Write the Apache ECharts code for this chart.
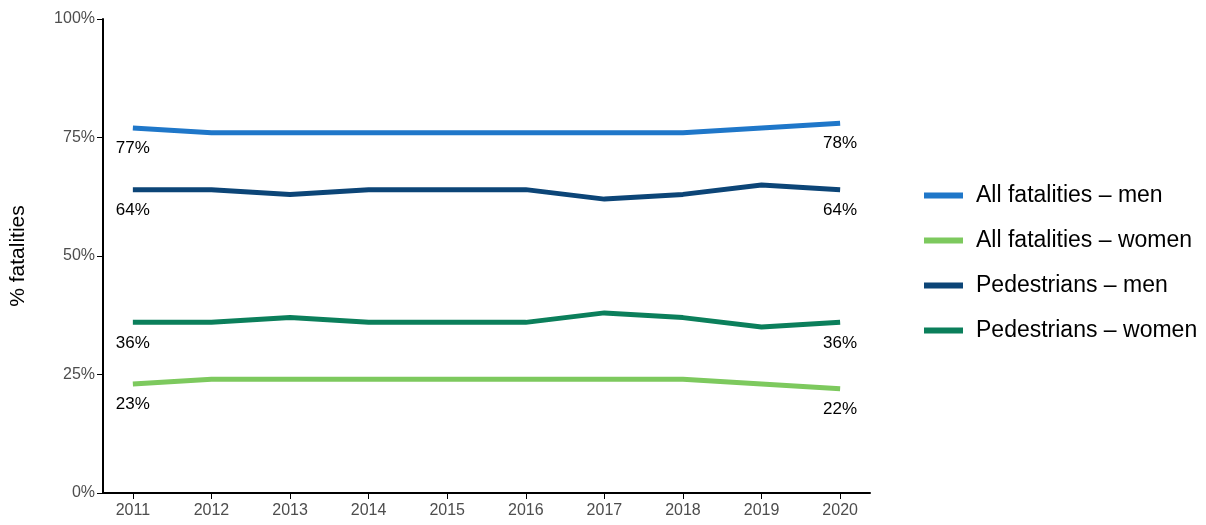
<!DOCTYPE html>
<html>
<head>
<meta charset="UTF-8">
<script src="https://cdn.jsdelivr.net/npm/echarts@6/dist/echarts.min.js"></script>
<style>body{margin:0}#main{width:1206px;height:525px}</style>
</head>
<body>
<div id="main"></div>
<script>
var years = [2011, 2012, 2013, 2014, 2015, 2016, 2017, 2018, 2019, 2020];
var allMen = [77, 76, 76, 76, 76, 76, 76, 76, 77, 78];
var allWomen = [23, 24, 24, 24, 24, 24, 24, 24, 23, 22];
var pedMen = [64, 64, 63, 64, 64, 64, 62, 63, 65, 64];
var pedWomen = [36, 36, 37, 36, 36, 36, 38, 37, 35, 36];
var yTicks = [0, 25, 50, 75, 100];

function mk(name, vals, color) {
  return {
    name: name, type: 'line', symbol: 'none',
    lineStyle: { width: 5, color: color }, itemStyle: { color: color },
    data: vals.map(function (v, i) { return [years[i], v]; }),
    markPoint: {
      symbol: 'circle', symbolSize: 0,
      label: { show: true, position: 'bottom', distance: 12, color: '#000', fontSize: 17, fontFamily: 'Liberation Sans',
        formatter: function (p) { return p.value + '%'; } },
      data: [0, vals.length - 1].map(function (i) { return { coord: [years[i], vals[i]], value: vals[i] }; })
    }
  };
}

var chart = echarts.init(document.getElementById('main'));
chart.setOption({
  animation: false,
  textStyle: { fontFamily: 'Liberation Sans' },
  grid: { left: 99, right: 336, top: 19, bottom: 32 },
  legend: {
    orient: 'vertical', left: 919, top: 179, itemGap: 22, itemWidth: 39, itemHeight: 6,
    icon: 'rect', textStyle: { fontSize: 23, color: '#000', padding: [0, 0, 0, 8] },
    data: ['All fatalities – men', 'All fatalities – women', 'Pedestrians – men', 'Pedestrians – women']
  },
  xAxis: {
    type: 'value', min: 2010.62, max: 2020.38,
    axisLine: { lineStyle: { color: '#000', width: 2 } },
    splitLine: { show: false },
    axisTick: { customValues: years, length: 6, lineStyle: { color: '#000' } },
    axisLabel: { customValues: years, color: '#4d4d4d', fontSize: 16, margin: 10,
      formatter: function (v) { return String(v); } }
  },
  yAxis: {
    type: 'value', min: 0, max: 100, interval: 25,
    name: '% fatalities', nameLocation: 'middle', nameGap: 74, nameRotate: 90,
    nameTextStyle: { fontSize: 21, color: '#000' },
    axisLine: { show: true, lineStyle: { color: '#000', width: 2 } },
    axisTick: { show: true, length: 6, lineStyle: { color: '#000' } },
    splitLine: { show: false },
    axisLabel: { color: '#4d4d4d', fontSize: 16, formatter: function (v) { return yTicks.indexOf(v) >= 0 ? v + '%' : ''; } }
  },
  series: [
    mk('All fatalities – men', allMen, '#1f77c9'),
    mk('All fatalities – women', allWomen, '#7dc95e'),
    mk('Pedestrians – men', pedMen, '#0c4577'),
    mk('Pedestrians – women', pedWomen, '#0b7f5b')
  ]
});
</script>
</body>
</html>
